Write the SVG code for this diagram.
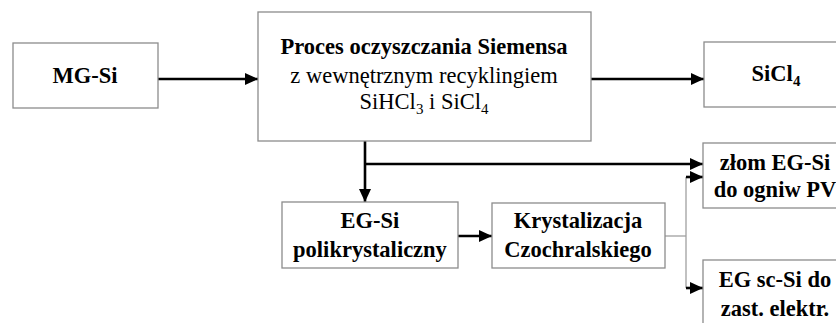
<svg xmlns="http://www.w3.org/2000/svg" width="836" height="323" viewBox="0 0 836 323">
<style>
.box{fill:#fff;stroke:#8c8c8c;stroke-width:1.3}
.t{font-family:"Liberation Serif","Times New Roman",serif;font-size:22.5px;fill:#000;text-anchor:middle}
.b{font-weight:bold}
.k{fill:none;stroke:#000;stroke-width:2.6}
.g{fill:none;stroke:#a0a0a0;stroke-width:1.3}
.sub{font-size:15px}
</style>
<defs>
<marker id="ah" markerUnits="userSpaceOnUse" markerWidth="14" markerHeight="12" refX="13" refY="6" orient="auto">
<path d="M0,0 L13,6 L0,12 Z" fill="#000"/>
</marker>
</defs>
<rect width="836" height="323" fill="#fff"/>
<g id="connectors">
<line class="k" x1="158" y1="79" x2="258" y2="79" marker-end="url(#ah)"/>
<line class="k" x1="591" y1="79" x2="704" y2="79" marker-end="url(#ah)"/>
<line class="k" x1="365" y1="141" x2="365" y2="202" marker-end="url(#ah)"/>
<line class="k" x1="365" y1="164" x2="703" y2="164" marker-end="url(#ah)"/>
<line class="k" x1="458" y1="236" x2="492" y2="236" marker-end="url(#ah)"/>
<polyline class="g" points="665,236 686,236"/>
<line class="g" x1="686" y1="177" x2="686" y2="288"/>
<line class="k" x1="686" y1="177" x2="703" y2="177" marker-end="url(#ah)"/>
<line class="k" x1="686" y1="288" x2="703" y2="288" marker-end="url(#ah)"/>
</g>
<g id="mgsi">
<rect class="box" x="13" y="43" width="145" height="65"/>
<text class="t b" x="85" y="83">MG-Si</text>
</g>
<g id="siemens">
<rect class="box" x="258" y="12" width="333" height="129"/>
<text class="t b" x="424" y="54">Proces oczyszczania Siemensa</text>
<text class="t" x="424" y="83">z wewnętrznym recyklingiem</text>
<text class="t" x="424" y="109">SiHCl<tspan class="sub" dy="5">3</tspan><tspan dy="-5"> i SiCl</tspan><tspan class="sub" dy="5">4</tspan></text>
</g>
<g id="sicl4">
<rect class="box" x="704" y="42" width="146" height="65"/>
<text class="t b" x="776" y="81">SiCl<tspan class="sub" dy="5">4</tspan></text>
</g>
<g id="zlom">
<rect class="box" x="703" y="143" width="147" height="65"/>
<text class="t b" x="775" y="170">złom EG-Si</text>
<text class="t b" x="775" y="197">do ogniw PV</text>
</g>
<g id="egscsi">
<rect class="box" x="703" y="260" width="147" height="70"/>
<text class="t b" x="775" y="287">EG sc-Si do</text>
<text class="t b" x="775" y="316">zast. elektr.</text>
</g>
<g id="egsi">
<rect class="box" x="282" y="202" width="176" height="66"/>
<text class="t b" x="370" y="228">EG-Si</text>
<text class="t b" x="370" y="257">polikrystaliczny</text>
</g>
<g id="kryst">
<rect class="box" x="492" y="203" width="173" height="65"/>
<text class="t b" x="578" y="228">Krystalizacja</text>
<text class="t b" x="578" y="257">Czochralskiego</text>
</g>
</svg>
